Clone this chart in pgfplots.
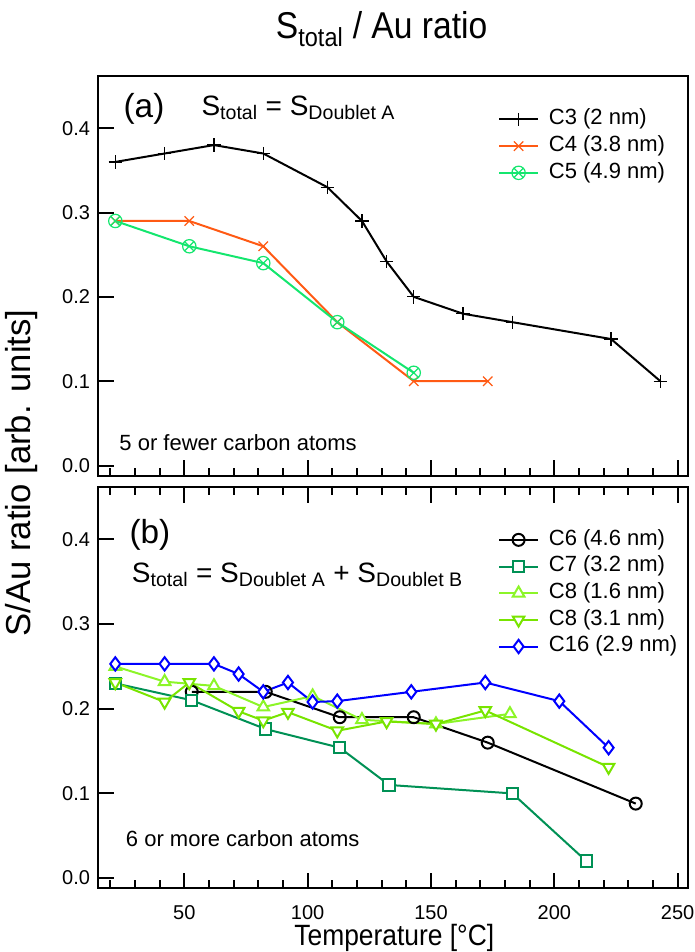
\documentclass[border=0pt]{standalone}
\usepackage{fontspec}
\setmainfont{Liberation Sans}
\newfontfamily\condensed[FakeStretch=0.9]{Liberation Sans}
\usepackage{pgfplots}
\pgfplotsset{compat=1.18}
\usetikzlibrary{plotmarks}

\definecolor{cfour}{RGB}{255,90,20}
\definecolor{cfive}{RGB}{20,230,110}
\definecolor{cseven}{RGB}{0,145,85}
\definecolor{ceighta}{RGB}{140,245,40}
\definecolor{ceightb}{RGB}{120,228,0}
\definecolor{csixteen}{RGB}{0,0,255}

\newcommand\fs[1]{\fontsize{#1}{#1}\selectfont}

\pgfplotsset{
  panel/.style={
    scale only axis, width=442.5pt,
    xmin=15.1, xmax=254.3, ymin=-0.012, ymax=0.462,
    axis line style={line width=1.5pt},
    tick style={line width=1.5pt, black},
    tick align=inside,
    xtick={50,100,150,200,250},
    minor xtick={20,30,40,60,70,80,90,110,120,130,140,160,170,180,190,210,220,230,240},
    major tick length=11.8pt, minor tick length=6pt,
    ytick={0,0.1,0.2,0.3,0.4}, ytick pos=left,
    yticklabel style={/pgf/number format/.cd, fixed, fixed zerofill, precision=1,
      assume math mode=true, /tikz/.cd, font=\fs{15}, inner sep=0pt, xshift=-6pt},
    xticklabel style={/pgf/number format/assume math mode=true,
      font=\fs{15}, anchor=base, yshift=-23.5pt, inner sep=0pt},
    legend cell align=left,
    legend image code/.code={\draw[mark repeat=2, mark phase=2, ##1]
      plot coordinates {(0pt,0pt) (14.5pt,0pt) (29pt,0pt)};},
    legend style={draw=none, fill=none, inner sep=0pt, font=\fs{16.5},
      row sep=0pt,
      nodes={inner sep=0pt, text height=14pt, text depth=6pt},
      /tikz/every odd column/.style={column sep=7.5pt}},
    ln/.style={line width=1.5pt, mark options={solid, line width=0.9pt}},
  },
}

\begin{document}
\begin{tikzpicture}
\useasboundingbox (-73.7pt,-47.8pt) rectangle (447.5pt,666.2pt);

% (a) five or fewer carbon atoms
\begin{axis}[panel, at={(0pt,309.45pt)}, anchor=south west, height=299.8pt,
  xtick pos=bottom, xticklabels={},
  legend style={at={(rel axis cs:0.6775,0.925)}, anchor=north west}]
\addplot[ln, black, mark=+, mark size=5pt] coordinates {
  (22,0.36) (42,0.37) (62,0.38) (82,0.37) (108,0.33) (122,0.29) (132,0.242)
  (143,0.20) (163,0.18) (183,0.17) (223,0.15) (243,0.10)};
\addlegendentry{C3 (2 nm)}
\addplot[ln, cfour, mark=x, mark size=5pt] coordinates {
  (22,0.29) (52,0.29) (82,0.26) (112,0.17) (143,0.10) (173,0.10)};
\addlegendentry{C4 (3.8 nm)}
\addplot[ln, cfive, mark=otimes, mark size=5pt] coordinates {
  (22,0.29) (52,0.26) (82,0.24) (112,0.17) (143,0.11)};
\addlegendentry{C5 (4.9 nm)}
\node[anchor=base west, font=\fs{25}] at (rel axis cs:0.035,0.897) {(a)};
\node[anchor=base west, font=\fs{21}] at (rel axis cs:0.167,0.902)
  {S\textsubscript{total} = S\textsubscript{Doublet A}};
\node[anchor=base west, font=\fs{16.5}] at (rel axis cs:0.028,0.064)
  {5 or fewer carbon atoms};
\end{axis}

% (b) six or more carbon atoms
\begin{axis}[panel, at={(0pt,0pt)}, anchor=south west, height=301pt,
  xtick pos=both,
  legend style={at={(rel axis cs:0.6775,0.902)}, anchor=north west}]
\addplot[ln, black, mark=o, mark size=4.5pt, mark options={fill=white}] coordinates {
  (53,0.22) (83,0.22) (113,0.19) (143,0.19) (173,0.16) (233,0.088)};
\addlegendentry{C6 (4.6 nm)}
\addplot[ln, cseven, mark=square*, mark size=4.3pt, mark options={fill=white}] coordinates {
  (22,0.23) (53,0.21) (83,0.176) (113,0.154) (133,0.11) (183,0.10) (213,0.02)};
\addlegendentry{C7 (3.2 nm)}
\addplot[ln, ceighta, mark=triangle*, mark size=5pt, mark options={fill=white}] coordinates {
  (22,0.25) (42,0.232) (62,0.227) (82,0.202) (102,0.215) (122,0.187) (152,0.182) (182,0.194)};
\addlegendentry{C8 (1.6 nm)}
\addplot[ln, ceightb, mark=triangle*, mark size=5pt, mark options={fill=white, rotate=180}] coordinates {
  (22,0.231) (42,0.208) (52,0.231) (72,0.197) (82,0.186) (92,0.196) (112,0.174)
  (132,0.185) (152,0.182) (172,0.198) (222,0.131)};
\addlegendentry{C8 (3.1 nm)}
\addplot[ln, csixteen, mark=diamond*, mark size=5pt, mark options={fill=white}] coordinates {
  (22,0.253) (42,0.253) (62,0.253) (72,0.241) (82,0.22) (92,0.231) (102,0.208)
  (112,0.209) (142,0.22) (172,0.231) (202,0.209) (222,0.154)};
\addlegendentry{C16 (2.9 nm)}
\node[anchor=base west, font=\fs{25}] at (rel axis cs:0.045,0.858) {(b)};
\node[anchor=base west, font=\fs{21}] at (rel axis cs:0.049,0.763)
  {S\textsubscript{total} = S\textsubscript{Doublet A} + S\textsubscript{Doublet B}};
\node[anchor=base west, font=\fs{16.5}] at (rel axis cs:0.039,0.105)
  {6 or more carbon atoms};
\end{axis}

\node[anchor=base, font=\condensed\fs{28}] at (212.5pt,637pt) {S\textsubscript{total} / Au ratio};
\node[anchor=base, inner sep=0pt, font=\condensed\fs{22}] at (222pt,-43pt) {Temperature [°C]};
\node[anchor=center, rotate=90, font=\fs{26}] at (-57.2pt,311.5pt) {S/Au ratio [arb. units]};
\end{tikzpicture}
\end{document}
